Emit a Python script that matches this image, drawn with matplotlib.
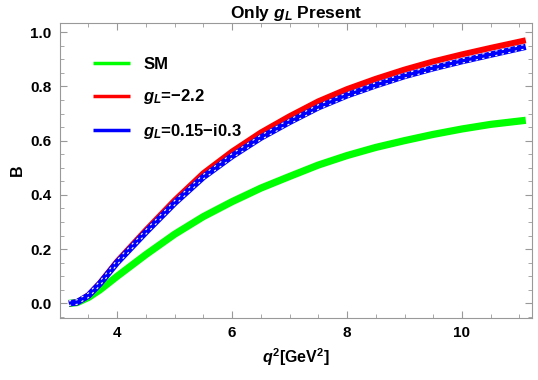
import matplotlib
matplotlib.use('Agg')
import matplotlib.pyplot as plt
import matplotlib.transforms as mtransforms
from matplotlib.ticker import MultipleLocator

# q^2 grid and branching-ratio-like curves
q2 = [3.16, 3.3, 3.5, 3.7, 4.0, 4.5, 5.0, 5.5, 6.0, 6.5, 7.0, 7.5, 8.0, 8.5, 9.0, 9.5, 10.0, 10.5, 11.11]
b_sm = [0.0, 0.003, 0.022, 0.05, 0.10, 0.18, 0.255, 0.32, 0.375, 0.425, 0.468, 0.51, 0.545, 0.575, 0.60, 0.623, 0.643, 0.66, 0.675]
b_red = [0.0, 0.004, 0.03, 0.075, 0.155, 0.27, 0.38, 0.48, 0.56, 0.63, 0.69, 0.745, 0.79, 0.828, 0.862, 0.892, 0.918, 0.942, 0.970]
b_blue = [0.0, 0.004, 0.029, 0.073, 0.151, 0.263, 0.37, 0.466, 0.543, 0.611, 0.669, 0.723, 0.767, 0.804, 0.838, 0.867, 0.893, 0.917, 0.946]

labels = ['SM', '$g_L$=\u22122.2', '$g_L$=0.15\u2212i0.3']

plt.rcParams['font.family'] = ['Liberation Sans', 'DejaVu Sans']
plt.rcParams['font.weight'] = 'bold'
plt.rcParams['mathtext.fontset'] = 'custom'
plt.rcParams['mathtext.rm'] = 'Liberation Sans:bold'
plt.rcParams['mathtext.it'] = 'Liberation Sans:italic:bold'
plt.rcParams['mathtext.bf'] = 'Liberation Sans:bold'

fig = plt.figure(figsize=(5.38, 3.8), dpi=100)
ax = fig.add_axes([0.111, 0.163, 0.878, 0.776])

ax.plot(q2, b_sm, color='#00ff00', lw=5.2, solid_capstyle='butt', label=labels[0])
ax.plot(q2, b_red, color='#ff0000', lw=4.3, solid_capstyle='butt', label=labels[1])
ax.plot(q2, b_blue, color='#0000ff', lw=4.6, solid_capstyle='butt', label=labels[2])

# thin white dashed lines inside the bands
up = mtransforms.offset_copy(ax.transData, fig=fig, x=0, y=2.5, units='dots')
dn = mtransforms.offset_copy(ax.transData, fig=fig, x=0, y=-2.0, units='dots')
ax.plot(q2, b_blue, color='white', lw=0.8, ls=(0, (2, 4)), transform=up)
ax.plot(q2, b_blue, color='white', lw=0.8, ls=(0, (2, 4)), transform=dn)

ax.set_xlim(3.0, 11.22)
ax.set_ylim(-0.054, 1.033)
ax.xaxis.set_major_locator(MultipleLocator(2))
ax.xaxis.set_minor_locator(MultipleLocator(0.5))
ax.yaxis.set_major_locator(MultipleLocator(0.2))
ax.yaxis.set_minor_locator(MultipleLocator(0.05))
ax.yaxis.set_major_formatter(plt.FormatStrFormatter('%.1f'))

ax.tick_params(which='both', direction='in', top=True, right=True, color='#999999',
               labelsize=11, pad=6)
ax.tick_params(which='major', length=5)
ax.tick_params(which='minor', length=3)
for s in ax.spines.values():
    s.set_color('#999999')

ax.set_title('Only $g_L$ Present', fontsize=12.5, fontweight='bold', pad=2)
ax.set_xlabel('$q^2$[GeV$^2$]', fontsize=11.5, fontweight='bold')
ax.set_ylabel('B', fontsize=11.5, fontweight='bold')

leg = ax.legend(loc='upper left', frameon=False, fontsize=12, handlelength=2.2,
                borderaxespad=1.6, labelspacing=0.95, bbox_to_anchor=(0.0, 1.0))
for ln in leg.get_lines():
    ln.set_linewidth(2.5)

plt.savefig('out.png', dpi=100)
